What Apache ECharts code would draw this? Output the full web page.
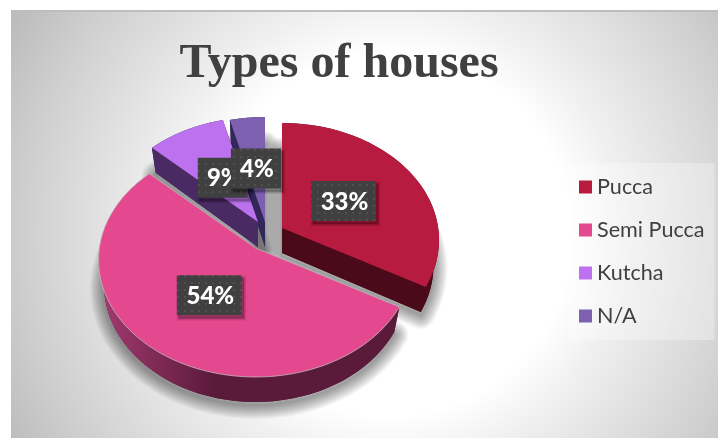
<!DOCTYPE html>
<html><head><meta charset="utf-8">
<style>html,body{margin:0;padding:0;background:#fff}#c{width:718px;height:438px}</style>
<script src="https://cdn.jsdelivr.net/npm/echarts@6/dist/echarts.min.js"></script>
</head><body><div id="c"></div>
<script>
const categories = ['Pucca', 'Semi Pucca', 'Kutcha', 'N/A'];
const shares = [33, 54, 9, 4];
const chartTitle = 'Types of houses';

const topColors = ['#B71C40', '#E4498F', '#BC72EE', '#7D60B0'];
const wallColors = ['#4A0A1A', '#5A1A3A', '#4A2A62', '#33265A'];
const anchors = [[282, 228], [255.5, 248], [258, 222], [265, 222]];
const labelReach = [0.455, 0.5, 0.44, 0.46];
const drawOrder = [3, 4, 2, 1];
const RX = 157, RY = 117, DROP = 12, DEPTH = 25, SHRINK = 0.965;
const SHADOW_LAYERS = 14, SHADOW_ALPHA = 0.03, SHADOW_DROP = 3;

const chart = echarts.init(document.getElementById('c'), null, {renderer: 'canvas'});

const total = shares.reduce((a, b) => a + b, 0);
const startAngle = i => shares.slice(0, i).reduce((a, b) => a + b, 0) / total * 2 * Math.PI;

// Ray from the slice tip out to the tilted rim (rim centre sits below the tip).
function rim(i, theta, rx, depth) {
  const [ax, ay] = anchors[i];
  const dx = Math.sin(theta), dy = -Math.cos(theta);
  const b = dy * DROP / RY * -1;
  const t = -b + Math.sqrt(b * b + 1 - (DROP / RY) * (DROP / RY));
  return [ax + rx * dx * t, ay + RY * dy * t + depth];
}
function arc(i, a0, a1, rx, depth) {
  const pts = [], n = 60;
  for (let k = 0; k <= n; k++) pts.push(rim(i, a0 + (a1 - a0) * k / n, rx, depth));
  return pts;
}

function sliceRenderer(i) {
  return function (params, api) {
    const value = api.value(0);
    const a0 = startAngle(i), a1 = a0 + value / total * 2 * Math.PI;
    const top = arc(i, a0, a1, RX, 0), low = arc(i, a0, a1, RX * SHRINK, DEPTH);
    const tip = anchors[i], tipLow = [tip[0], tip[1] + DEPTH];
    const wallFill = i === 1
      ? new echarts.graphic.LinearGradient(100, 0, 215, 0, [
          {offset: 0, color: '#A33A70'}, {offset: 1, color: '#5A1A3A'}], true)
      : wallColors[i];
    const children = [
      {type: 'polygon', shape: {points: [tipLow, ...low]}, style: {fill: wallColors[i]}},
      {type: 'polygon', shape: {points: top.concat(low.slice().reverse())}, style: {fill: wallFill}},
      {type: 'polygon', shape: {points: [tip, tipLow, low[0], top[0]]}, style: {fill: wallColors[i]}},
      {type: 'polygon', shape: {points: [tip, tipLow, low[low.length - 1], top[top.length - 1]]}, style: {fill: wallColors[i]}},
      {type: 'polygon', shape: {points: [tip, ...top]},
        style: {fill: topColors[i], stroke: i === 1 ? 'rgba(200,200,200,0.7)' : null, lineWidth: i === 1 ? 1 : 0}}
    ];
    return {type: 'group', children};
  };
}

// Soft ground shadow: stacked translucent strokes of each slice's underside.
function shadowRenderer(params, api) {
  const i = params.dataIndex;
  const value = api.value(0);
  const a0 = startAngle(i), a1 = a0 + value / total * 2 * Math.PI;
  const low = arc(i, a0, a1, RX * SHRINK, DEPTH + SHADOW_DROP);
  const tipLow = [anchors[i][0], anchors[i][1] + DEPTH + SHADOW_DROP];
  const children = [];
  for (let k = SHADOW_LAYERS; k >= 1; k--) {
    children.push({type: 'polygon', shape: {points: [tipLow, ...low]},
      style: {fill: 'none', stroke: 'rgba(0,0,0,' + SHADOW_ALPHA + ')', lineWidth: 2 * k, lineJoin: 'round'}});
  }
  return {type: 'group', children};
}

const dot = document.createElement('canvas');
dot.width = dot.height = 7;
(function () {
  const c = dot.getContext('2d');
  c.fillStyle = '#404040'; c.fillRect(0, 0, 7, 7);
  c.fillStyle = '#505050'; c.fillRect(2, 2, 2, 2);
})();

function labelRenderer(params, api) {
  const i = params.dataIndex;
  const value = api.value(0);
  const mid = startAngle(i) + value / total * Math.PI;
  const cx = anchors[i][0] + RX * Math.sin(mid) * labelReach[i];
  const cy = anchors[i][1] - RY * Math.cos(mid) * labelReach[i];
  const w = i < 2 ? 65 : 50, h = 40;
  const kids = [];
  for (let k = 5; k >= 1; k--) {
    kids.push({type: 'rect', shape: {x: cx - w / 2 + 2, y: cy - h / 2 + 3, width: w, height: h},
      style: {fill: 'rgba(0,0,0,0.05)', stroke: 'rgba(0,0,0,0.05)', lineWidth: k}});
  }
  kids.push({type: 'rect', shape: {x: cx - w / 2, y: cy - h / 2, width: w, height: h},
    style: {fill: {image: dot, repeat: 'repeat'}}});
  kids.push({type: 'text', style: {text: value + '%', x: cx + 1, y: cy + 1, align: 'center', verticalAlign: 'middle',
    fill: '#fff', font: '900 24px Lato'}});
  return {type: 'group', children: kids};
}

const series = categories.map((name, i) => ({
  type: 'custom', name, coordinateSystem: 'none', silent: true, z: drawOrder[i] + 2,
  itemStyle: {color: topColors[i]},
  renderItem: sliceRenderer(i),
  data: [[shares[i]]],
  animation: false
}));
series.push({
  type: 'custom', name: 'ground shadow', coordinateSystem: 'none', silent: true, z: 2,
  renderItem: shadowRenderer, data: shares.map(v => [v]), animation: false
});
series.push({
  type: 'custom', name: 'labels', coordinateSystem: 'none', silent: true, z: 10,
  renderItem: labelRenderer, data: shares.map(v => [v]), animation: false
});

chart.setOption({
  animation: false,
  backgroundColor: '#fff',
  graphic: [
    {type: 'rect', z: 0, shape: {x: 11, y: 11, width: 707, height: 427},
      style: {fill: new echarts.graphic.RadialGradient(390, 235, 430, [
        {offset: 0, color: '#ffffff'}, {offset: 0.42, color: '#ffffff'}, {offset: 0.54, color: '#f0f0f0'},
        {offset: 0.85, color: '#cfcfcf'}, {offset: 1, color: '#bdbdbd'}], true)}},
    {type: 'rect', z: 1, shape: {x: 11, y: 10, width: 707, height: 2}, style: {fill: '#bdbdbd'}}
  ],
  title: {
    text: chartTitle, left: 334, top: 36, textAlign: 'center',
    textStyle: {fontFamily: 'Liberation Serif', fontWeight: 'bold', fontSize: 48, color: '#404040'}
  },
  legend: {
    data: categories, orient: 'vertical', left: 568, top: 163, icon: 'rect',
    itemWidth: 13, itemHeight: 13, itemGap: 19,
    padding: [12, 10, 12, 11],
    backgroundColor: 'rgba(255,255,255,0.3)',
    textStyle: {fontFamily: 'Lato', fontSize: 21.6, color: '#404040', lineHeight: 24}
  },
  series
});
</script></body></html>
